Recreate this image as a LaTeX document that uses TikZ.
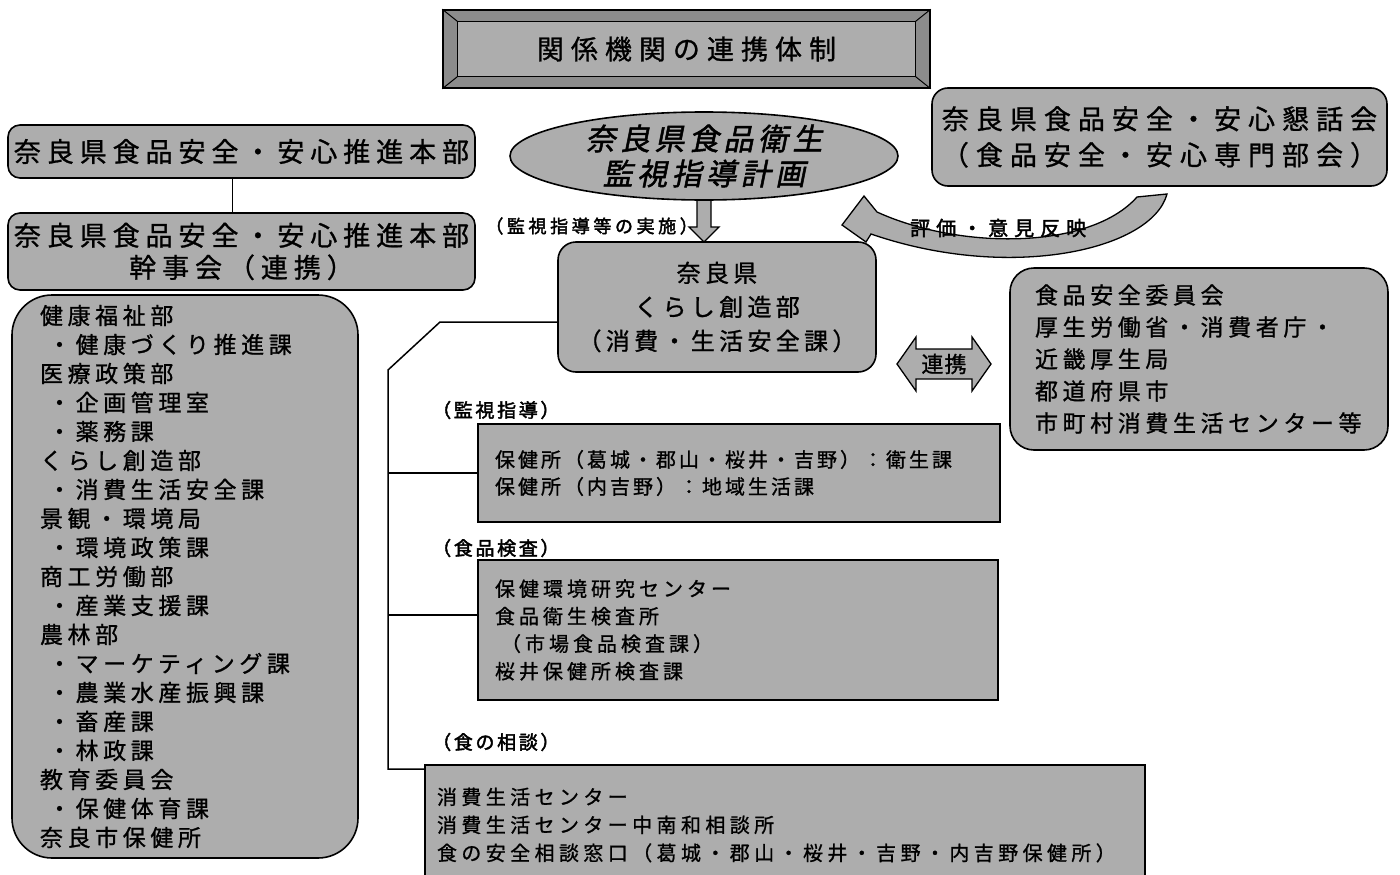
\documentclass[tikz,border=0pt]{standalone}
\usepackage{fontspec}
\setmainfont{Noto Sans CJK JP}[FakeBold=1]
\newfontfamily\jpslant[FakeSlant=0.2,FakeBold=1.6]{Noto Sans CJK JP}
\newfontfamily\jpbold[FakeBold=2.2]{Noto Sans CJK JP}
\usetikzlibrary{shapes.geometric,calc}
\definecolor{fillgray}{gray}{0.68}
\newcommand{\myfs}[3]{\fontsize{#1}{#2}\selectfont\addfontfeature{LetterSpace=#3}}
\tikzset{
  box/.style={draw=black, line width=1.6pt, fill=fillgray, rounded corners=12pt, inner sep=0pt},
  sqbox/.style={draw=black, line width=1.6pt, fill=fillgray, inner sep=0pt},
  conn/.style={draw=black, line width=1.5pt},
  blockarrow/.style={draw=black, line width=1.3pt, fill=fillgray, line join=miter},
  lbl/.style={font=\jpbold\myfs{19}{21}{14}, anchor=west, inner sep=0pt},
}
\begin{document}
\begin{tikzpicture}[x=1pt,y=-1pt]
\useasboundingbox (0,0) rectangle (1400,875);
\fill[white] (0,0) rectangle (1400,875);

% title
\node[draw, line width=1.6pt, fill=black!45, minimum width=487pt, minimum height=78pt, inner sep=0pt] (titlebox) at (686.5,49) {};
\draw[line width=1.2pt, fill=fillgray] ($(titlebox.north west)+(15,12)$) rectangle ($(titlebox.south east)+(-15,-12)$);
\draw[line width=1pt] (titlebox.north west) -- ++(15,12);
\draw[line width=1pt] (titlebox.south west) -- ++(15,-12);
\draw[line width=1pt] (titlebox.north east) -- ++(-15,12);
\draw[line width=1pt] (titlebox.south east) -- ++(-15,-12);
\node[font=\myfs{27}{30}{26}] (title) at (titlebox.center) {関係機関の連携体制};

% left boxes
\node[box, minimum width=467pt, minimum height=53pt, font=\myfs{27}{32}{22}] (hq) at (241.5,151.5) {奈良県食品安全・安心推進本部};
\node[box, minimum width=467pt, minimum height=77pt, align=center, font=\myfs{27}{32}{22}] (kanji) at (241.5,251.5) {奈良県食品安全・安心推進本部\\幹事会（連携）};
\draw[conn] ([xshift=-9pt]hq.south) -- ([xshift=-9pt]kanji.north);

\node[box, rounded corners=40pt, text width=290pt, inner xsep=28pt, minimum height=563pt, align=left, font=\myfs{23}{29}{20}] (depts) at (185,576.5) {健康福祉部\\
\hspace*{8pt}・健康づくり推進課\\
医療政策部\\
\hspace*{8pt}・企画管理室\\
\hspace*{8pt}・薬務課\\
くらし創造部\\
\hspace*{8pt}・消費生活安全課\\
景観・環境局\\
\hspace*{8pt}・環境政策課\\
商工労働部\\
\hspace*{8pt}・産業支援課\\
農林部\\
\hspace*{8pt}・マーケティング課\\
\hspace*{8pt}・農業水産振興課\\
\hspace*{8pt}・畜産課\\
\hspace*{8pt}・林政課\\
教育委員会\\
\hspace*{8pt}・保健体育課\\
奈良市保健所};

% kurashi box
\node[box, rounded corners=18pt, minimum width=318pt, minimum height=130pt, align=center, font=\myfs{24}{34}{18}] (kurashi) at (717,307) {奈良県\\くらし創造部\\（消費・生活安全課）};

% plan ellipse with down arrow
\coordinate (plancenter) at (704,156);
\coordinate (tip) at (704,242);
\draw[blockarrow] ($(tip)+(-7,-44)$) -- ($(tip)+(-7,-15)$) -- ($(tip)+(-15,-15)$) -- (tip) -- ($(tip)+(15,-15)$) -- ($(tip)+(7,-15)$) -- ($(tip)+(7,-44)$);
\node[ellipse, draw=black, line width=1.6pt, fill=fillgray, minimum width=388pt, minimum height=88pt, inner sep=0pt] (plan) at (plancenter) {};
\node[font=\jpslant\myfs{30}{35}{15}, align=center] (plantext) at (plan.center) {奈良県食品衛生\\監視指導計画};
\node[font=\jpbold\myfs{18}{20}{20}, anchor=east, inner sep=0pt] (jisshi) at (698,226) {（監視指導等の実施）};

% council
\node[box, rounded corners=16pt, minimum width=455pt, minimum height=98pt, align=center, font=\myfs{27}{36}{26}] (council) at (1159.5,137) {奈良県食品安全・安心懇話会\\（食品安全・安心専門部会）};

% curved feedback arrow
\draw[blockarrow] (842,225) -- (864,196) -- (877,212) .. controls (960,250) and (1090,250) .. (1137,197) -- (1167,194) .. controls (1152,250) and (1010,282) .. (871,234) -- (866,242) -- cycle;
\node[font=\jpbold\myfs{20}{22}{30}, anchor=west, inner sep=0pt] (hyouka) at (910,228) {評価・意見反映};

% others
\node[box, rounded corners=24pt, text width=328pt, inner xsep=25pt, minimum height=182pt, align=left, font=\myfs{23}{32}{20}] (others) at (1199,359) {食品安全委員会\\厚生労働省・消費者庁・\\近畿厚生局\\都道府県市\\市町村消費生活センター等};

% renkei double arrow
\coordinate (rk) at (944,364);
\draw[blockarrow] ($(rk)+(-47,0)$) -- ($(rk)+(-28,-27)$) -- ($(rk)+(-28,-15)$) -- ($(rk)+(28,-15)$) -- ($(rk)+(28,-27)$) -- ($(rk)+(47,0)$) -- ($(rk)+(28,27)$) -- ($(rk)+(28,15)$) -- ($(rk)+(-28,15)$) -- ($(rk)+(-28,27)$) -- cycle;
\node[font=\myfs{22}{24}{5}] (renkei) at (rk) {連携};

% lower boxes
\node[lbl] (l1) at (432,410) {（監視指導）};
\node[sqbox, text width=488pt, inner xsep=17pt, minimum height=98pt, align=left, font=\myfs{20}{27}{15}] (kanshi) at (739,473) {保健所（葛城・郡山・桜井・吉野）：衛生課\\保健所（内吉野）：地域生活課};

\node[lbl] (l2) at (432,548) {（食品検査）};
\node[sqbox, text width=486pt, inner xsep=17pt, minimum height=140pt, align=left, font=\myfs{20}{27.5}{20}] (kensa) at (738,630) {保健環境研究センター\\食品衛生検査所\\\hspace*{6pt}（市場食品検査課）\\桜井保健所検査課};

\node[lbl] (l3) at (432,742) {（食の相談）};
\node[sqbox, text width=696pt, inner xsep=12pt, minimum height=120pt, align=left, font=\myfs{20}{28}{22}] (soudan) at (785,825) {消費生活センター\\消費生活センター中南和相談所\\食の安全相談窓口（葛城・郡山・桜井・吉野・内吉野保健所）};

% connectors from kurashi
\coordinate (j1) at (440,322);
\coordinate (j2) at (388,370);
\draw[conn] (kurashi.west |- j1) -- (j1) -- (j2) |- ([yshift=-5pt]soudan.north west);
\draw[conn] (kanshi.west) -- (kanshi.west -| j2);
\draw[conn] ([yshift=15pt]kensa.west) -- ([yshift=15pt]kensa.west -| j2);
\end{tikzpicture}
\end{document}
